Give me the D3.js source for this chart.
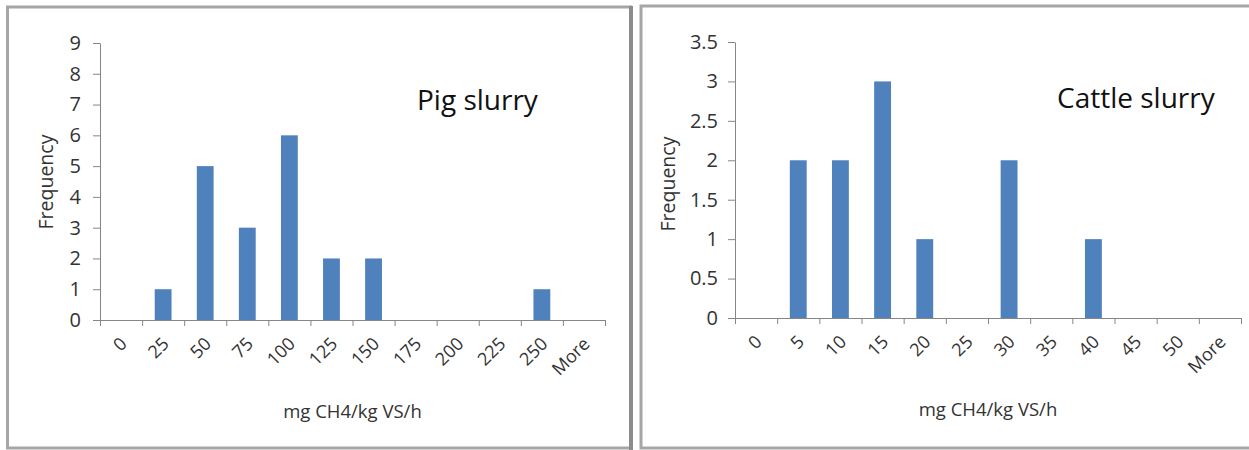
<!DOCTYPE html>
<html>
<head>
<meta charset="utf-8">
<script src="https://cdn.jsdelivr.net/npm/d3@7"></script>
<style>
  body { margin: 0; background: #fff; }
  svg { display: block; }
  text { font-family: "Open Sans", "DejaVu Sans", sans-serif; fill: #333; }
</style>
</head>
<body>
<script>
'use strict';
// histogram bins and counts
const pigBins = ["0", "25", "50", "75", "100", "125", "150", "175", "200", "225", "250", "More"];
const pigFreq = [0, 1, 5, 3, 6, 2, 2, 0, 0, 0, 1, 0];
const pigTicks = [0, 1, 2, 3, 4, 5, 6, 7, 8, 9];

const cattleBins = ["0", "5", "10", "15", "20", "25", "30", "35", "40", "45", "50", "More"];
const cattleFreq = [0, 2, 2, 3, 1, 0, 2, 0, 1, 0, 0, 0];
const cattleTicks = [0, 0.5, 1, 1.5, 2, 2.5, 3, 3.5];

const xTitle = "mg CH4/kg VS/h";
const yTitle = "Frequency";

const svg = d3.select("body").append("svg")
  .attr("width", 1249)
  .attr("height", 450);

// panel frames
svg.append("rect").attr("x", 7.5).attr("y", 7).attr("width", 623).attr("height", 441)
  .attr("fill", "none").attr("stroke", "#a6a6a6").attr("stroke-width", 3);
svg.append("line").attr("x1", 631).attr("x2", 631).attr("y1", 6).attr("y2", 450)
  .attr("stroke", "#8c8c8c").attr("stroke-width", 4);
svg.append("rect").attr("x", 641).attr("y", 6).attr("width", 620).attr("height", 442)
  .attr("fill", "none").attr("stroke", "#a6a6a6").attr("stroke-width", 3);

function drawHist(opt) {
  const g = svg.append("g");
  const x = d3.scaleBand().domain(opt.bins).range([opt.left, opt.right]).padding(0);
  const xLin = d3.scaleLinear().domain([0, opt.bins.length]).range([opt.left, opt.right]);
  const y = d3.scaleLinear().domain([0, opt.max]).range([opt.bottom, opt.top]);

  // bars
  const bw = x.bandwidth() * 0.4;
  g.selectAll("rect.bar")
    .data(opt.bins.map((b, i) => ({ bin: b, v: opt.freq[i] })).filter(d => d.v > 0))
    .enter().append("rect")
    .attr("class", "bar")
    .attr("x", d => x(d.bin) + x.bandwidth() / 2 - bw / 2)
    .attr("y", d => y(d.v))
    .attr("width", bw)
    .attr("height", d => y(0) - y(d.v))
    .attr("fill", "#4f81bd");

  // y axis
  const yAxis = d3.axisLeft(y).tickValues(opt.ticks).tickSize(7).tickSizeOuter(0)
    .tickPadding(opt.yPad).tickFormat(d3.format("~g"));
  const ya = g.append("g").attr("transform", "translate(" + opt.left + ",0)").call(yAxis);
  ya.select(".domain").attr("stroke", "#868686");
  ya.selectAll(".tick line").attr("stroke", "#868686");
  ya.selectAll(".tick text").style("font-size", "20px").attr("fill", "#333");

  // x axis: ticks at bin boundaries
  const xAxis = d3.axisBottom(xLin).tickValues(d3.range(opt.bins.length + 1))
    .tickSize(6).tickSizeOuter(0).tickFormat("");
  const xa = g.append("g").attr("transform", "translate(0," + opt.bottom + ")").call(xAxis);
  xa.select(".domain").attr("stroke", "#868686");
  xa.selectAll(".tick line").attr("stroke", "#868686");

  // rotated bin labels
  g.selectAll("text.xl")
    .data(opt.bins)
    .enter().append("text")
    .attr("class", "xl")
    .attr("text-anchor", "end")
    .attr("transform", d => "translate(" + (x(d) + x.bandwidth() / 2 + 7) + "," + (opt.bottom + 25) + ")rotate(-45)")
    .style("font-size", "18px")
    .text(d => d);

  g.append("text")
    .attr("x", (opt.left + opt.right) / 2)
    .attr("y", opt.bottom + 98)
    .attr("text-anchor", "middle")
    .style("font-size", "18.5px")
    .text(xTitle);

  g.append("text")
    .attr("transform", "translate(" + opt.yTitleX + "," + opt.yTitleY + ")rotate(-90)")
    .attr("text-anchor", "middle")
    .style("font-size", "19.5px")
    .text(yTitle);

  g.append("text")
    .attr("x", opt.titleX)
    .attr("y", opt.titleY)
    .style("font-size", "28px")
    .style("fill", "#111")
    .text(opt.title);
}

drawHist({
  bins: pigBins, freq: pigFreq, ticks: pigTicks, max: 9,
  left: 100, right: 605, top: 43, bottom: 320, yPad: 12,
  yTitleX: 53, yTitleY: 182,
  title: "Pig slurry", titleX: 417, titleY: 110
});

drawHist({
  bins: cattleBins, freq: cattleFreq, ticks: cattleTicks, max: 3.5,
  left: 735, right: 1241, top: 42, bottom: 318, yPad: 10,
  yTitleX: 675, yTitleY: 184,
  title: "Cattle slurry", titleX: 1057, titleY: 108
});
</script>
</body>
</html>
